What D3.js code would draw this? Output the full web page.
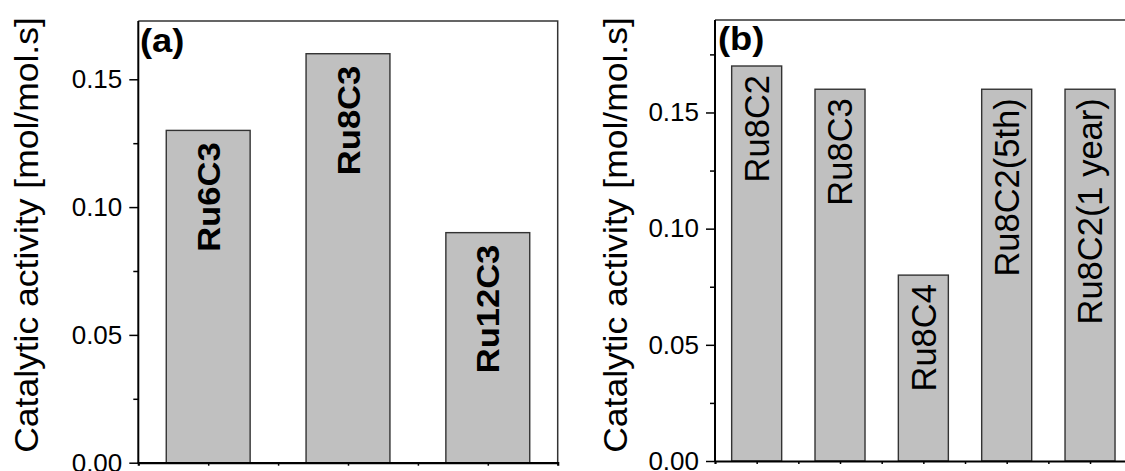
<!DOCTYPE html>
<html>
<head>
<meta charset="utf-8">
<script src="https://cdn.jsdelivr.net/npm/d3@7/dist/d3.min.js"></script>
<style>
  html, body { margin: 0; padding: 0; background: #fff; }
  svg { display: block; font-family: "Liberation Sans", Arial, Helvetica, sans-serif; }
</style>
</head>
<body>
<svg id="chart" width="1125" height="471"></svg>
<script>
// Panel (a): catalysts with different ruthenium loadings
const catsA = ["Ru6C3", "Ru8C3", "Ru12C3"];
const valuesA = [0.13, 0.16, 0.09];

// Panel (b): carbon supports, recycling and ageing
const catsB = ["Ru8C2", "Ru8C3", "Ru8C4", "Ru8C2(5th)", "Ru8C2(1 year)"];
const valuesB = [0.17, 0.16, 0.08, 0.16, 0.16];

const yTicks = [0, 0.05, 0.10, 0.15];
const yMinorA = [0.025, 0.075, 0.125];
const yMinorB = [0.025, 0.075, 0.125, 0.175];
const yTitle = "Catalytic activity [mol/mol.s]";
const tags = ["(a)", "(b)"];

const svg = d3.select("#chart");
const fmt = d3.format(".2f");

// vertical text, slightly elongated along its reading direction
function vText(sel, x, y, k) {
  return sel.attr("transform", `translate(${x},${y}) scale(1,${k}) rotate(-90)`);
}

function panel(opts) {
  const { cats, values, minor, x, y, tag, boldLabels, labelGap, labelSize, labelStretch, titleX, tagX, tagY } = opts;
  const g = svg.append("g");
  const [x0, x1] = x.range();
  const [yb, yt] = y.range();

  // bars
  g.selectAll("rect.bar").data(values).enter().append("rect")
    .attr("class", "bar")
    .attr("x", (d, i) => x(i + 1 - 0.3))
    .attr("width", (d, i) => x(i + 1 + 0.3) - x(i + 1 - 0.3))
    .attr("y", d => y(d))
    .attr("height", d => y(0) - y(d))
    .attr("fill", "#c0c0c0")
    .attr("stroke", "#333")
    .attr("stroke-width", 1.4);

  // frame (top and right)
  g.append("path")
    .attr("d", `M${x0},${yt}H${x1}V${yb}`)
    .attr("fill", "none").attr("stroke", "#333").attr("stroke-width", 1.5);

  // bar labels, vertical, anchored just below each bar top
  g.selectAll("text.lab").data(values).enter().append("text")
    .attr("class", "lab")
    .each(function (d, i) {
      const top = y(d) + labelGap;
      d3.select(this)
        .attr("transform", `translate(${x(i + 1)},${top}) scale(1,${labelStretch}) rotate(-90)`);
    })
    .attr("text-anchor", "end")
    .attr("dy", "0.36em")
    .attr("font-size", labelSize)
    .attr("font-weight", boldLabels ? "bold" : "normal")
    .attr("fill", "#000")
    .text((d, i) => cats[i]);

  // bottom axis with small ticks, no labels
  const xb = g.append("g").attr("transform", `translate(0,${yb})`)
    .call(d3.axisBottom(x).tickValues(d3.range(1, cats.length + 0.01, 0.5)).tickSize(3).tickFormat(""));
  xb.select(".domain").attr("stroke", "#000").attr("stroke-width", 2.2);
  xb.selectAll(".tick line").attr("stroke", "#000").attr("stroke-width", 1.5);

  // left axis: major and minor ticks
  const ya = g.append("g").attr("transform", `translate(${x0},0)`)
    .call(d3.axisLeft(y).tickValues(yTicks).tickSize(9).tickPadding(7).tickFormat(fmt));
  ya.select(".domain").attr("stroke", "#000").attr("stroke-width", 2).attr("d", `M0,${yb + 1}V${yt}`);
  ya.selectAll(".tick line").attr("stroke", "#000").attr("stroke-width", 1.5);
  ya.selectAll(".tick text")
    .attr("font-size", 26)
    .attr("font-family", "Liberation Sans, Arial, sans-serif")
    .attr("fill", "#000");

  const ym = g.append("g").attr("transform", `translate(${x0},0)`)
    .call(d3.axisLeft(y).tickValues(minor).tickSize(5).tickFormat(""));
  ym.select(".domain").remove();
  ym.selectAll(".tick line").attr("stroke", "#000").attr("stroke-width", 1.5);

  // axis title
  vText(g.append("text"), titleX, 235, 1.075)
    .attr("text-anchor", "middle")
    .attr("font-size", 33)
    .attr("fill", "#000")
    .text(yTitle);

  // panel tag
  g.append("text")
    .attr("transform", `translate(${tagX},${tagY}) scale(1.1,1)`)
    .attr("font-size", 33).attr("font-weight", "bold")
    .attr("fill", "#000")
    .text(tag);
}

panel({
  cats: catsA, values: valuesA, minor: yMinorA,
  x: d3.scaleLinear().domain([0.5, catsA.length + 0.5]).range([138.3, 557.7]),
  y: d3.scaleLinear().domain([0, 0.1728]).range([462.7, 21]),
  tag: tags[0], boldLabels: true, labelGap: 12, labelSize: 32, labelStretch: 1.08,
  titleX: 38, tagX: 140, tagY: 52
});

panel({
  cats: catsB, values: valuesB, minor: yMinorB,
  x: d3.scaleLinear().domain([0.5, catsB.length + 0.5]).range([715, 1131.7]),
  y: d3.scaleLinear().domain([0, 0.1898]).range([461, 20]),
  tag: tags[1], boldLabels: false, labelGap: 9, labelSize: 34.5, labelStretch: 1,
  titleX: 627, tagX: 718, tagY: 50
});
</script>
</body>
</html>
